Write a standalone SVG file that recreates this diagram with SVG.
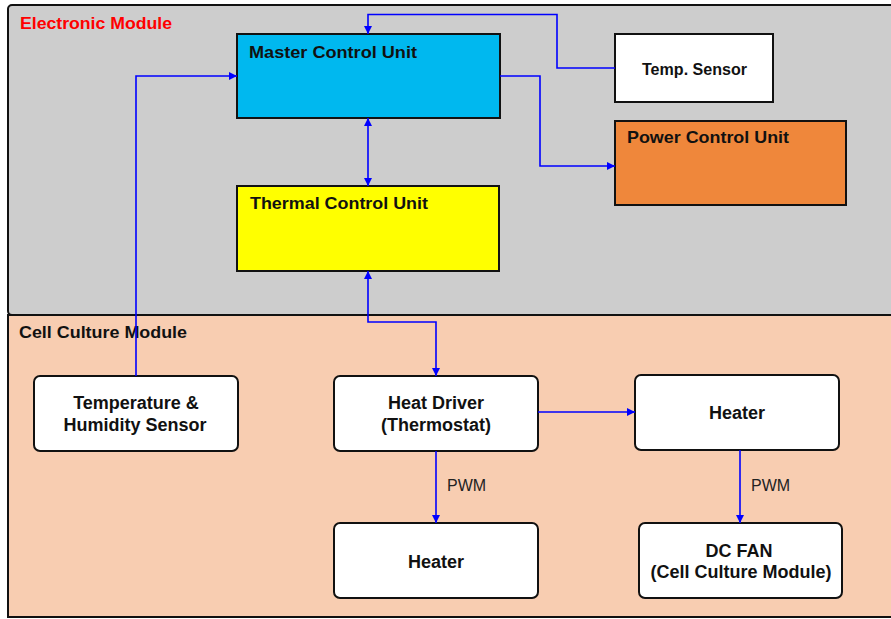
<svg xmlns="http://www.w3.org/2000/svg" width="891" height="619" viewBox="0 0 891 619">
<defs>
<marker id="ah" viewBox="0 0 8 8" markerWidth="8" markerHeight="8" refX="8" refY="4" orient="auto-start-reverse" markerUnits="userSpaceOnUse">
<path d="M0,0 L8,4 L0,8 z" fill="#0000FF"/>
</marker>
</defs>
<style>
.t{font-family:"Liberation Sans",Arial,sans-serif;font-weight:bold;font-size:17px;fill:#111}
.c{text-anchor:middle;font-size:18px}
.p{font-family:"Liberation Sans",Arial,sans-serif;font-size:16px;fill:#222}
.box{stroke:#111;stroke-width:2}
.rb{fill:#fff;stroke:#111;stroke-width:2}
.cn{fill:none;stroke:#0000FF;stroke-width:1.6}
</style>
<g id="electronic-module">
<rect x="8" y="5" width="890" height="310" rx="4" fill="#CDCDCD" stroke="#111" stroke-width="2"/>
<text class="t" x="20" y="29" style="fill:#FF0000" textLength="152" lengthAdjust="spacingAndGlyphs">Electronic Module</text>
</g>
<g id="cell-culture-module">
<rect x="8" y="315" width="890" height="302" fill="#F8CDB1" stroke="#111" stroke-width="2"/>
<text class="t" x="19" y="338" textLength="168" lengthAdjust="spacingAndGlyphs">Cell Culture Module</text>
</g>
<g id="master-control-unit">
<rect class="box" x="237" y="34" width="263" height="84" fill="#00B8EF"/>
<text class="t" x="249" y="58" textLength="168" lengthAdjust="spacingAndGlyphs">Master Control Unit</text>
</g>
<g id="thermal-control-unit">
<rect class="box" x="237" y="186" width="262" height="85" fill="#FFFF00"/>
<text class="t" x="250" y="209" textLength="178" lengthAdjust="spacingAndGlyphs">Thermal Control Unit</text>
</g>
<g id="temp-sensor">
<rect class="box" x="615" y="34" width="158" height="68" fill="#FFFFFF"/>
<text class="t" x="642" y="75" style="font-size:16px" textLength="105" lengthAdjust="spacingAndGlyphs">Temp. Sensor</text>
</g>
<g id="power-control-unit">
<rect class="box" x="615" y="121" width="231" height="84" fill="#EF873B"/>
<text class="t" x="627" y="143" textLength="162" lengthAdjust="spacingAndGlyphs">Power Control Unit</text>
</g>
<g id="temp-humidity-sensor">
<rect class="rb" x="34" y="376" width="204" height="75" rx="6"/>
<text class="t c" x="136" y="409">Temperature &amp;</text>
<text class="t c" x="135" y="431">Humidity Sensor</text>
</g>
<g id="heat-driver">
<rect class="rb" x="334" y="376" width="204" height="75" rx="6"/>
<text class="t c" x="436" y="409">Heat Driver</text>
<text class="t c" x="436" y="431">(Thermostat)</text>
</g>
<g id="heater-right">
<rect class="rb" x="635" y="375" width="204" height="75" rx="6"/>
<text class="t c" x="737" y="419">Heater</text>
</g>
<g id="heater-bottom">
<rect class="rb" x="334" y="523" width="204" height="75" rx="6"/>
<text class="t c" x="436" y="568">Heater</text>
</g>
<g id="dc-fan">
<rect class="rb" x="639" y="523" width="203" height="75" rx="6"/>
<text class="t c" x="739" y="557">DC FAN</text>
<text class="t c" x="741" y="578" textLength="181" lengthAdjust="spacingAndGlyphs">(Cell Culture Module)</text>
</g>
<g id="connectors">
<polyline class="cn" points="615,68 557,68 557,14.5 368,14.5 368,34" marker-end="url(#ah)"/>
<polyline class="cn" points="136,376 136,76 237,76" marker-end="url(#ah)"/>
<line class="cn" x1="368" y1="118" x2="368" y2="186" marker-start="url(#ah)" marker-end="url(#ah)"/>
<polyline class="cn" points="500,76 540,76 540,166 615,166" marker-end="url(#ah)"/>
<polyline class="cn" points="368,271 368,322 436,322 436,376" marker-start="url(#ah)" marker-end="url(#ah)"/>
<line class="cn" x1="538" y1="412" x2="635" y2="412" marker-end="url(#ah)"/>
<line class="cn" x1="436" y1="451" x2="436" y2="523" marker-end="url(#ah)"/>
<line class="cn" x1="740" y1="450" x2="740" y2="523" marker-end="url(#ah)"/>
<text class="p" x="447" y="491">PWM</text>
<text class="p" x="751" y="491">PWM</text>
</g>
</svg>
